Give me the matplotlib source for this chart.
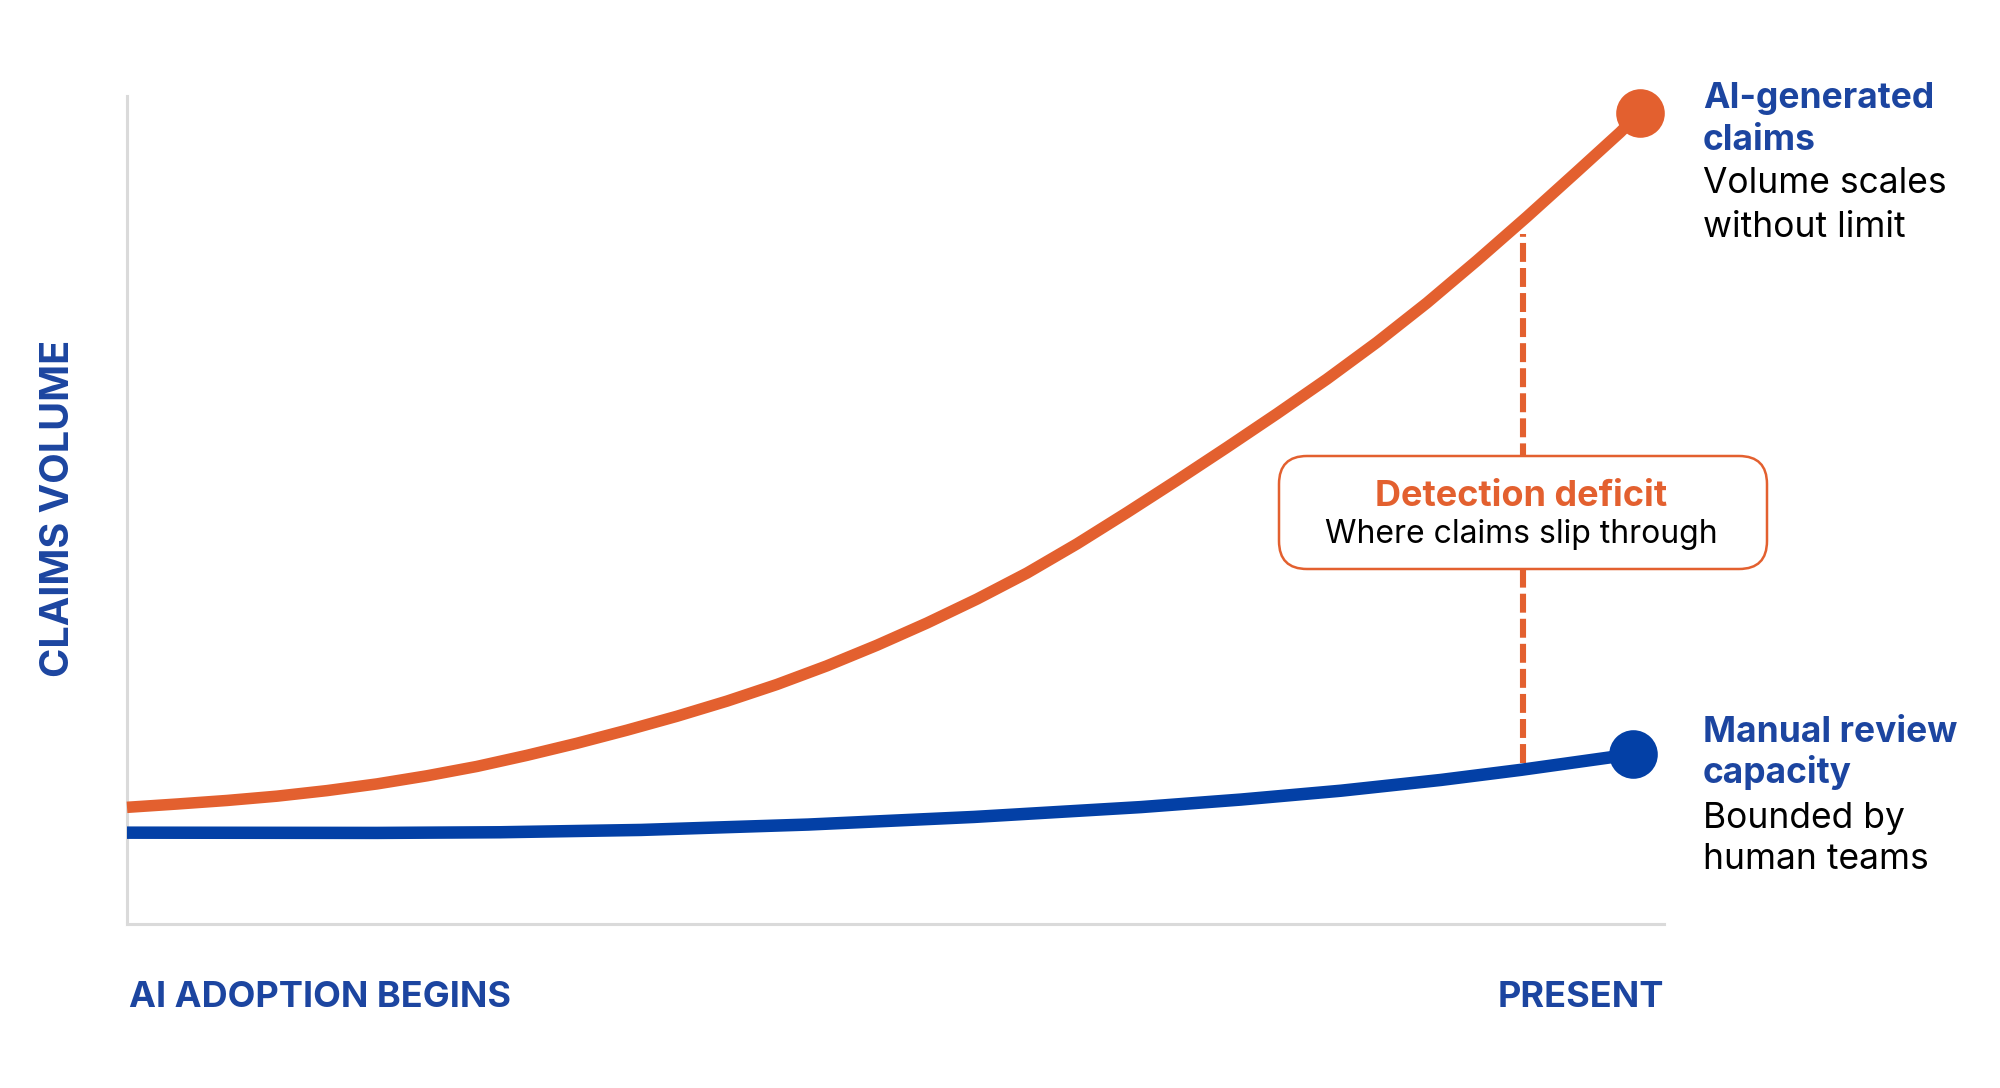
import numpy as np
import matplotlib
matplotlib.use("Agg")
import matplotlib.pyplot as plt
from matplotlib.patches import FancyBboxPatch

# values, axis units 0-100 both ways
ai_x = [0, 3.25, 6.51, 9.76, 13.01, 16.27, 19.52, 22.77, 26.02, 29.28, 32.53,
        35.78, 39.04, 42.29, 45.54, 48.80, 52.05, 55.30, 58.56, 61.81, 65.06,
        68.32, 71.57, 74.82, 78.07, 81.33, 84.58, 87.83, 91.09, 94.34, 97.14, 98.44]
ai_y = [14.09, 14.49, 14.92, 15.44, 16.11, 16.92, 17.90, 19.03, 20.37, 21.83, 23.41,
        25.09, 26.92, 28.93, 31.18, 33.67, 36.35, 39.24, 42.39, 45.91, 49.69,
        53.59, 57.57, 61.63, 65.81, 70.26, 75.02, 80.12, 85.42, 90.87, 95.6, 98.0]

manual_x = [0, 16.27, 24.27, 33.44, 44.31, 55.11, 65.97, 72.48, 78.99, 85.49, 90.70, 97.98]
manual_y = [11.03, 11.00, 11.08, 11.36, 12.01, 12.93, 14.12, 15.03, 16.10, 17.40, 18.62, 20.51]

gap_x = 90.8
gap_y = [19.4, 83.3]

ai_label = ["AI-generated", "claims"]
ai_note = ["Volume scales", "without limit"]
manual_label = ["Manual review", "capacity"]
manual_note = ["Bounded by", "human teams"]

ORANGE = "#E3602F"
BLUE_LINE = "#0340A6"
BLUE_TXT = "#1C45A0"
GREY = "#DADADA"

W, H = 2000, 1088
fig = plt.figure(figsize=(W / 100, H / 100), dpi=100)
ax = fig.add_axes([127 / W, (H - 924) / H, 1537 / W, 828 / H])
ax.set_xlim(0, 100)
ax.set_ylim(0, 100)
for s in ["top", "right"]:
    ax.spines[s].set_visible(False)
for s in ["left", "bottom"]:
    ax.spines[s].set_color(GREY)
    ax.spines[s].set_linewidth(2.2)
ax.set_xticks([])
ax.set_yticks([])

ax.plot(ai_x, ai_y, color=ORANGE, lw=8.3, solid_capstyle="butt",
        solid_joinstyle="round", clip_on=False, zorder=3)
ax.plot(manual_x, manual_y, color=BLUE_LINE, lw=9, solid_capstyle="butt",
        solid_joinstyle="round", clip_on=False, zorder=3)
ax.plot(ai_x[-1], ai_y[-1], "o", color=ORANGE, ms=35, mew=0, clip_on=False, zorder=4)
ax.plot(manual_x[-1], manual_y[-1], "o", color=BLUE_LINE, ms=35, mew=0, clip_on=False, zorder=4)

ax.plot([gap_x, gap_x], gap_y, color=ORANGE, lw=4.4, linestyle=(0, (3.1, 1.0)),
        dash_capstyle="butt", zorder=2)

# callout box (inches, so the corners stay round)
box = FancyBboxPatch((12.79 + 0.28, (H - 569) / 100 + 0.28), 4.88 - 0.56, 1.13 - 0.56,
                     boxstyle="round,pad=0.28", transform=fig.dpi_scale_trans,
                     facecolor="white", edgecolor=ORANGE, lw=1.8, zorder=5)
fig.add_artist(box)

def fy(py):
    return 1 - py / H

sans = ["Inter", "DejaVu Sans"]

fig.text(1521 / W, fy(506), "Detection deficit", ha="center", va="baseline",
         fontsize=26, fontweight="bold", color=ORANGE, family=sans, zorder=6)
fig.text(1521 / W, fy(543), "Where claims slip through", ha="center", va="baseline",
         fontsize=23, color="black", family=sans, zorder=6)

for txt, base in zip(ai_label, [108, 150]):
    fig.text(1703 / W, fy(base), txt, ha="left", va="baseline", fontsize=25.5,
             fontweight="bold", color=BLUE_TXT, family=sans)
for txt, base in zip(ai_note, [193, 237]):
    fig.text(1703 / W, fy(base), txt, ha="left", va="baseline", fontsize=25.5,
             color="black", family=sans)
for txt, base in zip(manual_label, [742, 783]):
    fig.text(1703 / W, fy(base), txt, ha="left", va="baseline", fontsize=25.5,
             fontweight="bold", color=BLUE_TXT, family=sans)
for txt, base in zip(manual_note, [828, 869]):
    fig.text(1703 / W, fy(base), txt, ha="left", va="baseline", fontsize=25.5,
             color="black", family=sans)

fig.text(58.5 / W, fy(508), "CLAIMS VOLUME", rotation=90, ha="center", va="center",
         fontsize=28.5, fontweight="bold", color=BLUE_TXT, family=sans)
fig.text(129 / W, fy(1007), "AI ADOPTION BEGINS", ha="left", va="baseline",
         fontsize=26, fontweight="bold", color=BLUE_TXT, family=sans)
fig.text(1664 / W, fy(1007), "PRESENT", ha="right", va="baseline",
         fontsize=26, fontweight="bold", color=BLUE_TXT, family=sans)

fig.savefig("out.png", dpi=100, facecolor="white")
